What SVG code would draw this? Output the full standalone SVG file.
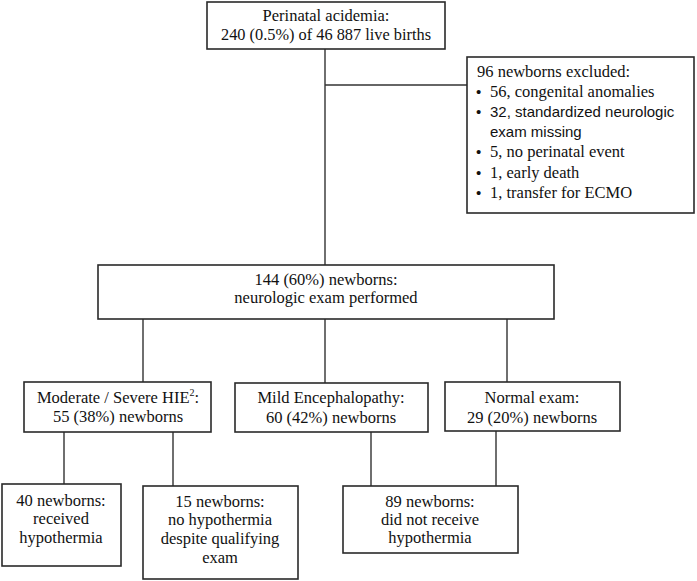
<svg xmlns="http://www.w3.org/2000/svg" width="697" height="581" viewBox="0 0 697 581">
<style>
.box{fill:#fff;stroke:#2a2a2a;stroke-width:1.6}
.t{font-family:'Liberation Serif','DejaVu Serif',serif;font-size:16.5px;fill:#111;text-anchor:middle}
.l{font-family:'Liberation Serif','DejaVu Serif',serif;font-size:16.5px;fill:#111}
.s{font-family:'Liberation Sans',Arial,sans-serif;font-size:15px;fill:#111}
.c{fill:none;stroke:#333;stroke-width:1.4}
</style>
<rect width="697" height="581" fill="#fff"/>
<g id="connectors">
<path class="c" d="M325 49V265"/>
<path class="c" d="M325 85H467"/>
<path class="c" d="M143 319V382M325 319V383M507 319V382"/>
<path class="c" d="M64 432V484M173 432V486"/>
<path class="c" d="M371 432V486M496 431V486"/>
</g>
<g id="n-top">
<rect class="box" x="207" y="2" width="238" height="47"/>
<text class="t" x="326" y="21">Perinatal acidemia:</text>
<text class="t" x="326" y="40" textLength="210" lengthAdjust="spacingAndGlyphs">240 (0.5%) of 46 887 live births</text>
</g>
<g id="n-excluded">
<rect class="box" x="467" y="57" width="227" height="156"/>
<text class="l" x="477" y="77">96 newborns excluded:</text>
<text class="s" x="476" y="97">•</text><text class="l" x="490" y="97">56, congenital anomalies</text>
<text class="s" x="476" y="117">•</text><text class="s" x="490" y="117">32, standardized neurologic</text>
<text class="s" x="490" y="137">exam missing</text>
<text class="s" x="476" y="157">•</text><text class="l" x="490" y="157">5, no perinatal event</text>
<text class="s" x="476" y="178">•</text><text class="l" x="490" y="178">1, early death</text>
<text class="s" x="476" y="198">•</text><text class="l" x="490" y="198">1, transfer for ECMO</text>
</g>
<g id="n-exam">
<rect class="box" x="98" y="265" width="456" height="54"/>
<text class="t" x="326" y="285">144 (60%) newborns:</text>
<text class="t" x="326" y="303">neurologic exam performed</text>
</g>
<g id="n-moderate">
<rect class="box" x="24" y="382" width="187" height="50"/>
<text class="t" x="118" y="403">Moderate / Severe HIE<tspan font-size="10" dy="-7">2</tspan><tspan dy="7">:</tspan></text>
<text class="t" x="118" y="422">55 (38%) newborns</text>
</g>
<g id="n-mild">
<rect class="box" x="235" y="383" width="193" height="49"/>
<text class="t" x="331" y="403">Mild Encephalopathy:</text>
<text class="t" x="331" y="423">60 (42%) newborns</text>
</g>
<g id="n-normal">
<rect class="box" x="445" y="382" width="175" height="49"/>
<text class="t" x="532" y="403">Normal exam:</text>
<text class="t" x="532" y="423">29 (20%) newborns</text>
</g>
<g id="n-40">
<rect class="box" x="2" y="484" width="119" height="82"/>
<text class="t" x="61" y="506">40 newborns:</text>
<text class="t" x="61" y="524">received</text>
<text class="t" x="61" y="543">hypothermia</text>
</g>
<g id="n-15">
<rect class="box" x="143" y="486" width="155" height="93"/>
<text class="t" x="220" y="507">15 newborns:</text>
<text class="t" x="220" y="525">no hypothermia</text>
<text class="t" x="220" y="544">despite qualifying</text>
<text class="t" x="220" y="563">exam</text>
</g>
<g id="n-89">
<rect class="box" x="343" y="486" width="175" height="67"/>
<text class="t" x="430" y="507">89 newborns:</text>
<text class="t" x="430" y="525">did not receive</text>
<text class="t" x="430" y="543">hypothermia</text>
</g>
</svg>
